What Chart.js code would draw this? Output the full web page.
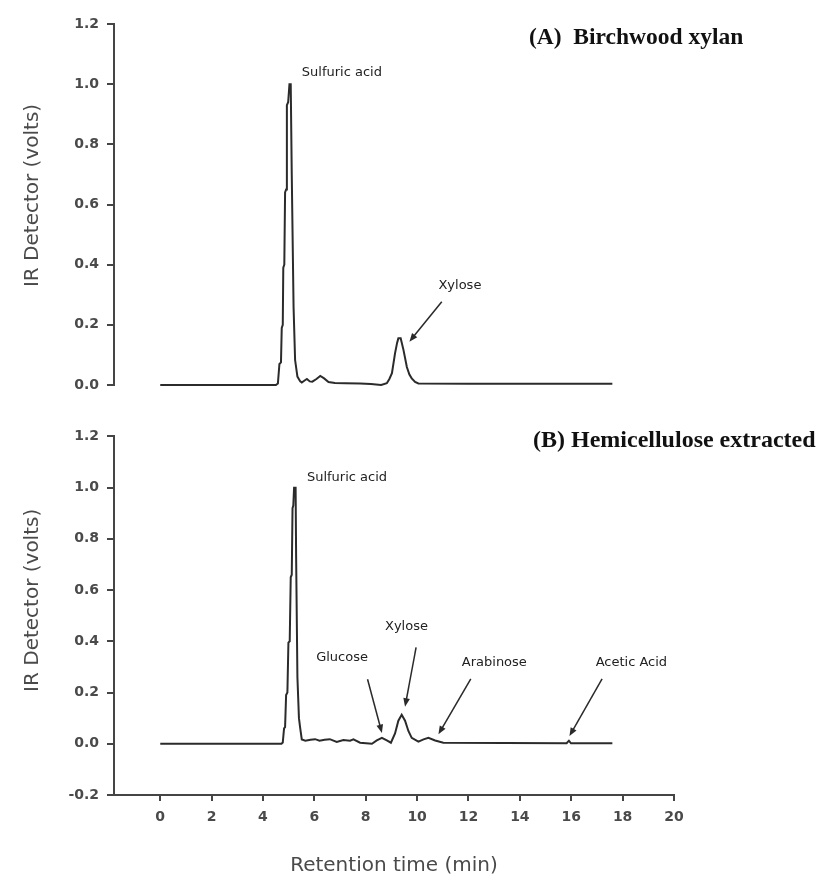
<!DOCTYPE html>
<html>
<head>
<meta charset="utf-8">
<title>IR detector chromatograms</title>
<script src="https://cdn.jsdelivr.net/npm/chart.js@4.4.1/dist/chart.umd.min.js"></script>
<style>
    body { margin: 0; background: #ffffff; }
    #wrap { position: relative; width: 820px; height: 884px; }
    canvas { position: absolute; left: 0; }
    #chartA { top: 0; }
    #chartB { top: 420px; }
</style>
</head>
<body>
<div id="wrap">
    <canvas id="chartA" width="820" height="420"></canvas>
    <canvas id="chartB" width="820" height="464"></canvas>
</div>
<script>
// Retention time (min) and detector signal (volts) for panel A - birchwood xylan
const timeA = [0, 4.50, 4.58, 4.64, 4.70, 4.73, 4.77, 4.79, 4.83, 4.86, 4.90, 4.93, 4.98, 5.03, 5.08,
    5.12, 5.19, 5.25, 5.34, 5.45, 5.51, 5.62, 5.71, 5.82, 5.92, 6.08, 6.23, 6.38, 6.55, 6.80,
    7.20, 7.78, 8.20, 8.60, 8.82, 8.92, 9.02, 9.14, 9.22, 9.27, 9.36, 9.47, 9.60, 9.70, 9.79,
    9.92, 10.05, 12.00, 17.60];
const signalA = [0, 0, 0.005, 0.07, 0.075, 0.19, 0.20, 0.39, 0.40, 0.64, 0.65, 0.93, 0.94, 1.0, 1.0,
    0.70, 0.26, 0.083, 0.028, 0.012, 0.008, 0.015, 0.02, 0.012, 0.011, 0.02, 0.03, 0.022, 0.01, 0.007,
    0.006, 0.005, 0.003, 0.0, 0.006, 0.02, 0.039, 0.105, 0.14, 0.155, 0.155, 0.116, 0.06, 0.035, 0.022,
    0.01, 0.005, 0.004, 0.004];

// Panel B - hemicellulose extracted
const timeB = [0, 4.72, 4.77, 4.82, 4.86, 4.90, 4.95, 4.99, 5.04, 5.08, 5.12, 5.15, 5.18, 5.21, 5.27,
    5.29, 5.34, 5.40, 5.45, 5.51, 5.65, 5.85, 6.03, 6.20, 6.40, 6.60, 6.87, 7.13, 7.39, 7.52,
    7.78, 8.24, 8.43, 8.63, 8.82, 8.98, 9.14, 9.27, 9.40, 9.53, 9.66, 9.79, 10.05, 10.25, 10.44,
    10.70, 11.02, 15.82, 15.91, 15.99, 17.60];
const signalB = [0, 0, 0.005, 0.06, 0.065, 0.19, 0.20, 0.395, 0.40, 0.65, 0.66, 0.92, 0.93, 1.0, 1.0,
    0.73, 0.26, 0.10, 0.06, 0.017, 0.012, 0.016, 0.018, 0.012, 0.016, 0.018, 0.007, 0.015, 0.012, 0.017,
    0.004, 0.0, 0.013, 0.023, 0.013, 0.004, 0.04, 0.09, 0.113, 0.09, 0.05, 0.023, 0.008, 0.017, 0.023,
    0.013, 0.004, 0.002, 0.012, 0.002, 0.002];

// Tick values
const xTicks = [0, 2, 4, 6, 8, 10, 12, 14, 16, 18, 20];
const yTicksA = [0, 0.2, 0.4, 0.6, 0.8, 1.0, 1.2];
const yTicksB = [-0.2, 0, 0.2, 0.4, 0.6, 0.8, 1.0, 1.2];

// Peak labels and arrows, given in data units (min, volts)
const notesA = {
    heading: { text: '(A)  Birchwood xylan', left: 529, top: 38, size: 23.5 },
    yTitleAt: 0.63,
    labels: [
        { text: 'Sulfuric acid', x: 5.51, y: 1.038 },
        { text: 'Xylose', x: 10.83, y: 0.329 }
    ],
    arrows: [
        { from: [10.96, 0.277], to: [9.70, 0.144] }
    ]
};
const notesB = {
    heading: { text: '(B) Hemicellulose extracted', left: 533, top: 21, size: 24 },
    yTitleAt: 0.56,
    xTitle: 'Retention time (min)',
    labels: [
        { text: 'Sulfuric acid', x: 5.71, y: 1.038 },
        { text: 'Glucose', x: 6.07, y: 0.337 },
        { text: 'Xylose', x: 8.75, y: 0.457 },
        { text: 'Arabinose', x: 11.74, y: 0.318 },
        { text: 'Acetic Acid', x: 16.95, y: 0.318 }
    ],
    arrows: [
        { from: [8.07, 0.252], to: [8.63, 0.042] },
        { from: [9.96, 0.376], to: [9.53, 0.145] },
        { from: [12.09, 0.253], to: [10.83, 0.037] },
        { from: [17.20, 0.253], to: [15.93, 0.030] }
    ]
};

const axisColor = '#454545';
const tickFont = { family: 'DejaVu Sans', size: 14, weight: 'bold' };

function drawArrow(ctx, x1, y1, x2, y2) {
    const ang = Math.atan2(y2 - y1, x2 - x1);
    const head = 9;
    ctx.beginPath();
    ctx.moveTo(x1, y1);
    ctx.lineTo(x2 - Math.cos(ang) * head * 0.8, y2 - Math.sin(ang) * head * 0.8);
    ctx.stroke();
    ctx.beginPath();
    ctx.moveTo(x2, y2);
    ctx.lineTo(x2 - head * Math.cos(ang - 0.38), y2 - head * Math.sin(ang - 0.38));
    ctx.lineTo(x2 - head * Math.cos(ang + 0.38), y2 - head * Math.sin(ang + 0.38));
    ctx.closePath();
    ctx.fill();
}

// Draws headings, axis titles, peak labels and arrows on top of the chart
const notesPlugin = {
    id: 'notes',
    afterDraw(chart, args, notes) {
        const ctx = chart.ctx;
        const xs = chart.scales.x;
        const ys = chart.scales.y;
        const area = chart.chartArea;
        ctx.save();

        // heading
        ctx.fillStyle = '#111';
        ctx.font = 'bold ' + notes.heading.size + 'px "Liberation Serif", serif';
        ctx.textAlign = 'left';
        ctx.textBaseline = 'middle';
        ctx.fillText(notes.heading.text, notes.heading.left, notes.heading.top);

        // y axis title
        ctx.fillStyle = '#4a4a4a';
        ctx.font = '20px "DejaVu Sans", sans-serif';
        ctx.save();
        ctx.translate(33, ys.getPixelForValue(notes.yTitleAt));
        ctx.rotate(-Math.PI / 2);
        ctx.textAlign = 'center';
        ctx.fillText('IR Detector (volts)', 0, 0);
        ctx.restore();

        // x axis title
        if (notes.xTitle) {
            ctx.textAlign = 'center';
            ctx.fillText(notes.xTitle, (area.left + area.right) / 2, area.bottom + 71);
        }

        // peak labels
        ctx.fillStyle = '#222';
        ctx.font = '13px "DejaVu Sans", sans-serif';
        ctx.textAlign = 'left';
        notes.labels.forEach(l => {
            ctx.fillText(l.text, xs.getPixelForValue(l.x), ys.getPixelForValue(l.y));
        });

        // arrows
        ctx.strokeStyle = '#2a2a2a';
        ctx.fillStyle = '#2a2a2a';
        ctx.lineWidth = 1.5;
        notes.arrows.forEach(a => {
            drawArrow(ctx,
                xs.getPixelForValue(a.from[0]), ys.getPixelForValue(a.from[1]),
                xs.getPixelForValue(a.to[0]), ys.getPixelForValue(a.to[1]));
        });
        ctx.restore();
    }
};

function makeChart(canvasId, times, signal, yTicks, yMin, showX, notes, padding, xHeight) {
    const ctx = document.getElementById(canvasId).getContext('2d');
    return new Chart(ctx, {
        type: 'line',
        data: {
            datasets: [{
                data: times.map((t, i) => ({ x: t, y: signal[i] })),
                borderColor: '#2b2b2b',
                borderWidth: 2,
                pointRadius: 0,
                tension: 0,
                fill: false,
                clip: 6
            }]
        },
        options: {
            responsive: false,
            animation: false,
            layout: { padding: padding },
            plugins: {
                legend: { display: false },
                tooltip: { enabled: false },
                notes: notes
            },
            scales: {
                x: {
                    type: 'linear',
                    display: showX,
                    min: -1.8,
                    max: 20,
                    afterBuildTicks: s => { s.ticks = xTicks.map(v => ({ value: v })); },
                    afterFit: s => { if (xHeight) s.height = xHeight; },
                    grid: { drawOnChartArea: false, tickLength: 6, color: axisColor, lineWidth: 2 },
                    border: { color: axisColor, width: 2 },
                    ticks: { font: tickFont, color: '#4a4a4a', padding: 8, maxRotation: 0 }
                },
                y: {
                    type: 'linear',
                    min: yMin,
                    max: 1.2,
                    afterBuildTicks: s => { s.ticks = yTicks.map(v => ({ value: v })); },
                    afterFit: s => { s.width = 114; },
                    grid: { drawOnChartArea: false, tickLength: 7, color: axisColor, lineWidth: 2 },
                    border: { color: axisColor, width: 2 },
                    ticks: {
                        font: tickFont,
                        color: '#4a4a4a',
                        padding: 8,
                        callback: v => v.toFixed(1)
                    }
                }
            }
        },
        plugins: [notesPlugin]
    });
}

document.addEventListener('DOMContentLoaded', () => {
    window.chartA = makeChart('chartA', timeA, signalA, yTicksA, 0, false, notesA,
        { left: 0, top: 24, right: 146, bottom: 35 }, 0);
    window.chartB = makeChart('chartB', timeB, signalB, yTicksB, -0.2, true, notesB,
        { left: 0, top: 11, right: 146, bottom: 0 }, 89);
});
</script>
</body>
</html>
